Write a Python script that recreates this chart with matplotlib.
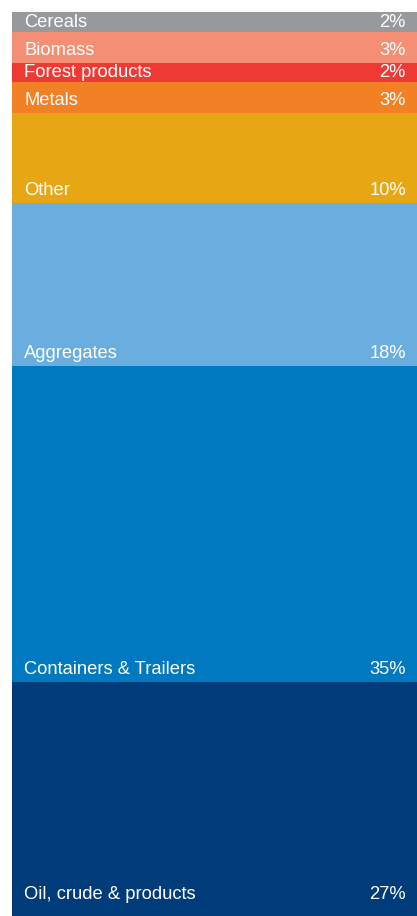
import numpy as np
import matplotlib
matplotlib.use("Agg")
import matplotlib.pyplot as plt

# cargo categories, top to bottom
categories = ["Cereals", "Biomass", "Forest products", "Metals", "Other",
              "Aggregates", "Containers & Trailers", "Oil, crude & products"]
share_labels = ["2%", "3%", "2%", "3%", "10%", "18%", "35%", "27%"]
# segment sizes as drawn (small ones are a bit larger than their rounded label)
sizes = [2.2, 3.4, 2.2, 3.4, 10, 18, 35, 27]
colors = ["#98999d", "#f48e75", "#ee3a34", "#f28025", "#e7a614",
          "#6aaee0", "#0079c1", "#003b7a"]

visible_bottom = 100.1  # last segment is cut off at the bottom of the image

fig = plt.figure(figsize=(4.17, 9.16), dpi=100)
ax = fig.add_axes([12 / 417, 0, 405 / 417, 904 / 916])

bottoms = np.concatenate([[0], np.cumsum(sizes)[:-1]])
ax.bar(0, sizes, bottom=bottoms, width=1, color=colors, linewidth=0)

ax.set_xlim(-0.5, 0.5)
ax.set_ylim(visible_bottom, 0)
ax.axis("off")

font = dict(family=["Liberation Sans", "DejaVu Sans"], size=13.2, color="white")
for name, lab, b, s in zip(categories, share_labels, bottoms, sizes):
    y = min(b + s, visible_bottom - 1.0)
    pad = 5 if s < 3 else 8
    ax.annotate(name, (-0.5, y), xytext=(12, pad), textcoords="offset pixels",
                ha="left", va="baseline", **font)
    ax.annotate(lab, (0.5, y), xytext=(-11, pad), textcoords="offset pixels",
                ha="right", va="baseline", **font)

fig.savefig("out.png", dpi=100)
